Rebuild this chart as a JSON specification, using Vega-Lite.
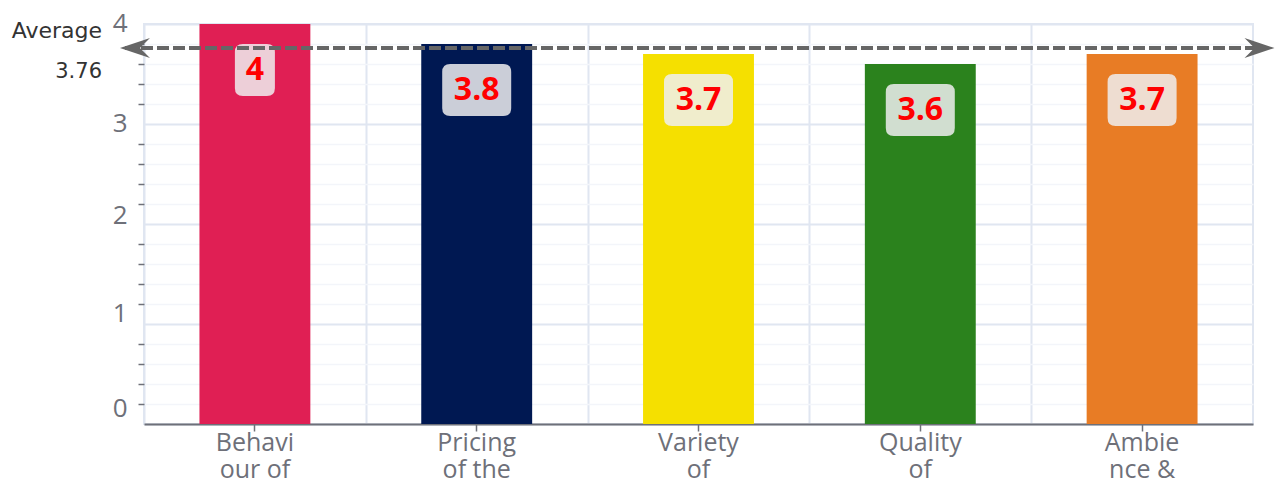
{
  "$schema": "https://vega.github.io/schema/vega-lite/v6.json",
  "width": 1109,
  "height": 400,
  "autosize": "none",
  "padding": {"left": 144, "top": 24, "right": 23, "bottom": 61},
  "background": "white",
  "config": {"view": {"stroke": "#e0e6f1", "strokeWidth": 2}, "font": "Open Sans"},
  "datasets": {
    "bars": [
      {"category": "Behaviour of", "value": 4},
      {"category": "Pricing of the", "value": 3.8},
      {"category": "Variety of", "value": 3.7},
      {"category": "Quality of", "value": 3.6},
      {"category": "Ambience &", "value": 3.7}
    ],
    "avg": [{"name": "Average", "value": 3.76}]
  },
  "encoding": {
    "y": {
      "field": "value", "type": "quantitative",
      "scale": {"domain": [0, 4], "nice": false, "zero": true},
      "axis": {
        "title": null, "domain": false, "format": "~g",
        "values": [0, 0.2, 0.4, 0.6, 0.8, 1, 1.2, 1.4, 1.6, 1.8, 2, 2.2, 2.4, 2.6, 2.8, 3, 3.2, 3.4, 3.6, 3.8, 4],
        "grid": true,
        "gridColor": {"condition": {"test": "datum.value % 1 === 0", "value": "#e0e6f1"}, "value": "#f3f5fa"},
        "gridWidth": {"condition": {"test": "datum.value % 1 === 0", "value": 2}, "value": 1.5},
        "tickColor": "#6e7079", "tickSize": 6, "tickWidth": 1.5,
        "tickOpacity": {"condition": {"test": "datum.value % 1 === 0", "value": 0}, "value": 1},
        "labelExpr": "datum.value % 1 === 0 ? datum.label : ''",
        "labelFont": "Open Sans", "labelFontSize": 26, "labelColor": "#6e7079",
        "labelPadding": 11, "labelBaseline": "middle",
        "labelOffset": {"condition": [
          {"test": "datum.value === 0", "value": -16},
          {"test": "datum.value === 1", "value": -11},
          {"test": "datum.value === 2", "value": -9}
        ], "value": -1}
      }
    }
  },
  "layer": [
    {
      "data": {"name": "bars"},
      "mark": {"type": "bar"},
      "encoding": {
        "x": {
          "field": "category", "type": "nominal", "sort": null,
          "scale": {"paddingInner": 0.5, "paddingOuter": 0.25},
          "axis": {
            "orient": "bottom", "title": null, "grid": false, "labelAngle": 0,
            "domainColor": "#6e7079", "domainWidth": 2,
            "tickColor": "#6e7079", "tickSize": 7, "tickWidth": 1.5,
            "labelFont": "Open Sans", "labelFontSize": 25, "labelColor": "#6e7079",
            "labelLineHeight": 27, "labelPadding": -1, "labelLimit": 0,
            "labelExpr": "datum.value == 'Behaviour of' ? ['Behavi','our of'] : datum.value == 'Pricing of the' ? ['Pricing','of the'] : datum.value == 'Ambience &' ? ['Ambie','nce &'] : split(datum.value, ' ')"
          }
        },
        "color": {
          "field": "category", "type": "nominal", "sort": null, "legend": null,
          "scale": {
            "domain": ["Behaviour of", "Pricing of the", "Variety of", "Quality of", "Ambience &"],
            "range": ["#e01f54", "#001852", "#f5e000", "#2b821d", "#e87c25"]
          }
        }
      }
    },
    {
      "data": {"name": "bars"},
      "mark": {"type": "point", "filled": true, "color": "#eeeef0", "opacity": 0.85, "size": 4761, "yOffset": 46, "strokeWidth": 0},
      "encoding": {
        "x": {
          "field": "category", "type": "nominal", "sort": null,
          "axis": {
            "orient": "bottom", "title": null, "grid": true, "tickOffset": -110.9,
            "gridColor": "#e0e6f1", "gridWidth": 2,
            "labels": false, "ticks": false, "domain": false
          }
        },
        "shape": {
          "field": "category", "type": "nominal", "legend": null,
          "scale": {
            "domain": ["Behaviour of", "Pricing of the", "Variety of", "Quality of", "Ambience &"],
            "range": [
              "M-0.348,-0.754L0.348,-0.754Q0.58,-0.754 0.58,-0.522L0.58,0.522Q0.58,0.754 0.348,0.754L-0.348,0.754Q-0.58,0.754 -0.58,0.522L-0.58,-0.522Q-0.58,-0.754 -0.348,-0.754Z",
              "M-0.768,-0.754L0.768,-0.754Q1,-0.754 1,-0.522L1,0.522Q1,0.754 0.768,0.754L-0.768,0.754Q-1,0.754 -1,0.522L-1,-0.522Q-1,-0.754 -0.768,-0.754Z",
              "M-0.768,-0.754L0.768,-0.754Q1,-0.754 1,-0.522L1,0.522Q1,0.754 0.768,0.754L-0.768,0.754Q-1,0.754 -1,0.522L-1,-0.522Q-1,-0.754 -0.768,-0.754Z",
              "M-0.768,-0.754L0.768,-0.754Q1,-0.754 1,-0.522L1,0.522Q1,0.754 0.768,0.754L-0.768,0.754Q-1,0.754 -1,0.522L-1,-0.522Q-1,-0.754 -0.768,-0.754Z",
              "M-0.768,-0.754L0.768,-0.754Q1,-0.754 1,-0.522L1,0.522Q1,0.754 0.768,0.754L-0.768,0.754Q-1,0.754 -1,0.522L-1,-0.522Q-1,-0.754 -0.768,-0.754Z"
            ]
          }
        }
      }
    },
    {
      "data": {"name": "bars"},
      "mark": {"type": "text", "color": "#ff0000", "font": "Open Sans", "fontWeight": "bold", "fontSize": 32, "baseline": "middle", "align": "center", "dy": 46},
      "encoding": {
        "x": {"field": "category", "type": "nominal", "sort": null, "axis": null},
        "text": {"field": "value", "type": "quantitative"}
      }
    },
    {
      "data": {"name": "avg"},
      "mark": {"type": "rule", "color": "#666666", "strokeWidth": 4, "strokeDash": [12, 4]},
      "encoding": {
        "x": {"datum": "Behaviour of", "type": "nominal", "bandPosition": -0.6713, "axis": null},
        "x2": {"datum": "Ambience &", "bandPosition": 1.635}
      }
    },
    {
      "data": {"name": "avg"},
      "mark": {"type": "point", "filled": true, "color": "#666666", "opacity": 1, "size": 900, "strokeWidth": 0,
               "shape": "M-1,0L1,-0.67L0.33,0L1,0.67Z"},
      "encoding": {
        "x": {"datum": "Behaviour of", "type": "nominal", "bandPosition": -0.5812, "axis": null}
      }
    },
    {
      "data": {"name": "avg"},
      "mark": {"type": "point", "filled": true, "color": "#666666", "opacity": 1, "size": 900, "strokeWidth": 0,
               "shape": "M1,0L-1,-0.67L-0.33,0L-1,0.67Z"},
      "encoding": {
        "x": {"datum": "Ambience &", "type": "nominal", "bandPosition": 1.5586, "axis": null}
      }
    },
    {
      "data": {"name": "avg"},
      "mark": {"type": "text", "color": "#333333", "font": "DejaVu Sans", "fontSize": 22, "align": "right", "baseline": "middle", "dy": -17},
      "encoding": {
        "x": {"datum": "Behaviour of", "type": "nominal", "bandPosition": -0.8787, "axis": null},
        "text": {"field": "name", "type": "nominal"}
      }
    },
    {
      "data": {"name": "avg"},
      "mark": {"type": "text", "color": "#333333", "font": "DejaVu Sans", "fontSize": 21, "align": "right", "baseline": "middle", "dy": 24},
      "encoding": {
        "x": {"datum": "Behaviour of", "type": "nominal", "bandPosition": -0.8787, "axis": null},
        "text": {"field": "value", "type": "quantitative", "format": ".2f"}
      }
    }
  ],
  "resolve": {"axis": {"x": "independent"}}
}
